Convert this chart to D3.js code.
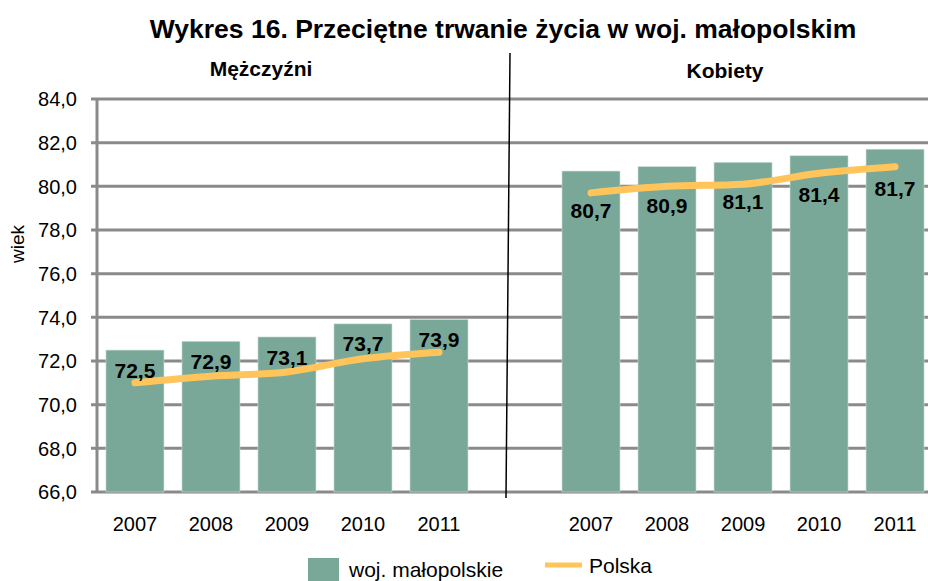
<!DOCTYPE html>
<html>
<head>
<meta charset="utf-8">
<script src="https://cdn.jsdelivr.net/npm/d3@7/dist/d3.min.js"></script>
<style>
  body { margin: 0; background: #fff; }
  svg { display: block; font-family: Arial, "Liberation Sans", sans-serif; }
</style>
</head>
<body>
<div id="viz"></div>
<script>
// data
const years = ['2007', '2008', '2009', '2010', '2011'];
const maleRegion = [72.5, 72.9, 73.1, 73.7, 73.9];
const femaleRegion = [80.7, 80.9, 81.1, 81.4, 81.7];
const malePoland = [71.0, 71.3, 71.5, 72.1, 72.4];
const femalePoland = [79.7, 80.0, 80.1, 80.6, 80.9];
const yTicks = [66, 68, 70, 72, 74, 76, 78, 80, 82, 84];
const groupNames = ['Mężczyźni', 'Kobiety'];

const width = 928;
const height = 581;
const margin = { top: 99, left: 97, bottom: 89 };
const plotRight = 933;

const svg = d3.select('#viz').append('svg')
  .attr('width', width)
  .attr('height', height);

// slots: 5 male, 1 gap, 5 female
const slots = years.map(y => 'M' + y).concat(['gap']).concat(years.map(y => 'K' + y));

const x = d3.scaleBand()
  .domain(slots)
  .range([margin.left, plotRight])
  .paddingInner(0.237)
  .paddingOuter(0.118);

const y = d3.scaleLinear()
  .domain([66, 84])
  .range([height - margin.bottom, margin.top]);

// grid lines
svg.append('g')
  .selectAll('line')
  .data(yTicks)
  .join('line')
  .attr('x1', margin.left - 6)
  .attr('x2', plotRight)
  .attr('y1', d => y(d))
  .attr('y2', d => y(d))
  .attr('stroke', '#8a8a8a')
  .attr('stroke-width', 3);

// y axis line
svg.append('line')
  .attr('x1', margin.left)
  .attr('x2', margin.left)
  .attr('y1', y(84))
  .attr('y2', y(66) + 1)
  .attr('stroke', '#8a8a8a')
  .attr('stroke-width', 3);

// y tick labels
svg.append('g')
  .selectAll('text')
  .data(yTicks)
  .join('text')
  .attr('x', 77)
  .attr('y', d => y(d))
  .attr('dy', '0.36em')
  .attr('text-anchor', 'end')
  .attr('font-size', 20)
  .attr('fill', '#000')
  .text(d => d.toFixed(1).replace('.', ','));

// y axis title
svg.append('text')
  .attr('transform', 'translate(17,244) rotate(-90)')
  .attr('text-anchor', 'middle')
  .attr('dy', '0.36em')
  .attr('font-size', 19)
  .text('wiek');

const groups = [
  { prefix: 'M', region: maleRegion, poland: malePoland, labelOffset: 20 },
  { prefix: 'K', region: femaleRegion, poland: femalePoland, labelOffset: 39 }
];

const barColor = '#7aa898';
const lineColor = '#ffc55a';

groups.forEach(g => {
  const data = years.map((yr, i) => ({
    key: g.prefix + yr, year: yr, v: g.region[i], p: g.poland[i]
  }));

  svg.append('g')
    .selectAll('rect')
    .data(data)
    .join('rect')
    .attr('x', d => x(d.key))
    .attr('width', x.bandwidth())
    .attr('y', d => y(d.v))
    .attr('height', d => y(66) - y(d.v))
    .attr('fill', barColor)
    .attr('stroke', '#c9dcd4')
    .attr('stroke-width', 0.6);

  svg.append('path')
    .datum(data)
    .attr('fill', 'none')
    .attr('stroke', lineColor)
    .attr('stroke-width', 7)
    .attr('stroke-linecap', 'round')
    .attr('d', d3.line()
      .x(d => x(d.key) + x.bandwidth() / 2)
      .y(d => y(d.p))
      .curve(d3.curveMonotoneX));

  svg.append('g')
    .selectAll('text')
    .data(data)
    .join('text')
    .attr('x', d => x(d.key) + x.bandwidth() / 2)
    .attr('y', d => y(d.v) + g.labelOffset)
    .attr('dy', '0.36em')
    .attr('text-anchor', 'middle')
    .attr('font-size', 21)
    .attr('font-weight', 'bold')
    .text(d => d.v.toFixed(1).replace('.', ','));

  // year labels
  svg.append('g')
    .selectAll('text')
    .data(data)
    .join('text')
    .attr('x', d => x(d.key) + x.bandwidth() / 2)
    .attr('y', 531)
    .attr('text-anchor', 'middle')
    .attr('font-size', 20)
    .text(d => d.year);
});

// divider between groups
svg.append('line')
  .attr('x1', 510)
  .attr('y1', 53)
  .attr('x2', 506)
  .attr('y2', 498)
  .attr('stroke', '#000')
  .attr('stroke-width', 1.5);

// title
svg.append('text')
  .attr('x', 503)
  .attr('y', 38)
  .attr('text-anchor', 'middle')
  .attr('font-size', 26.5)
  .attr('font-weight', 'bold')
  .text('Wykres 16. Przeciętne trwanie życia w woj. małopolskim');

// group headers
svg.append('g')
  .selectAll('text')
  .data(groupNames)
  .join('text')
  .attr('x', (d, i) => i === 0 ? 261 : 725)
  .attr('y', (d, i) => i === 0 ? 76 : 78)
  .attr('text-anchor', 'middle')
  .attr('font-size', 21)
  .attr('font-weight', 'bold')
  .text(d => d);

// legend
const legend = svg.append('g');
legend.append('rect')
  .attr('x', 308).attr('y', 558)
  .attr('width', 31).attr('height', 24)
  .attr('fill', barColor);
legend.append('text')
  .attr('x', 349).attr('y', 577)
  .attr('font-size', 21)
  .text('woj. małopolskie');
legend.append('line')
  .attr('x1', 545).attr('x2', 582)
  .attr('y1', 565).attr('y2', 565)
  .attr('stroke', lineColor)
  .attr('stroke-width', 5);
legend.append('text')
  .attr('x', 589).attr('y', 573)
  .attr('font-size', 21)
  .text('Polska');
</script>
</body>
</html>
